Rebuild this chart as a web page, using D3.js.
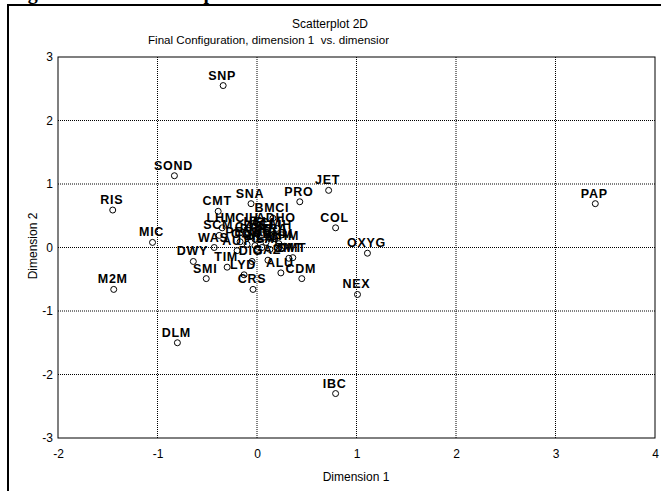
<!DOCTYPE html>
<html>
<head>
<meta charset="utf-8">
<script src="https://cdn.jsdelivr.net/npm/d3@7"></script>
<style>
  html, body { margin: 0; padding: 0; background: #fff; }
  svg { display: block; }
</style>
</head>
<body>
<div id="chart"></div>
<script>
// MDS final configuration, dimension 1 vs dimension 2
const labels = [
  "SNP", "SOND", "RIS", "MIC", "M2M", "DLM", "IBC", "NEX", "OXYG", "COL",
  "JET", "PRO", "CDM", "PAP", "SNA", "CMT", "DWY", "SMI", "TIM", "LYD",
  "CRS", "ALU", "DMT", "OMT", "LHM", "CIH", "BMCI", "ADHO", "SCM", "WAS",
  "AUT", "DIG", "GAZ", "SGI", "PHA", "BRI", "CAS", "TRA", "CHM", "HEL",
  "OCH", "SAF", "LIH", "PEN", "ALM", "BHM", "SIL", "ACM"
];
const dim1 = [
  -0.34, -0.83, -1.45, -1.05, -1.44, -0.80, 0.79, 1.01, 1.11, 0.79,
  0.72, 0.43, 0.45, 3.40, -0.06, -0.39, -0.64, -0.51, -0.30, -0.13,
  -0.04, 0.24, 0.36, 0.32, -0.35, -0.09, 0.16, 0.20, -0.38, -0.43,
  -0.20, -0.05, 0.11, 0.05, -0.02, 0.09, -0.07, 0.18, 0.28, 0.01,
  -0.10, 0.13, 0.25, -0.17, 0.05, 0.22, -0.02, 0.10
];
const dim2 = [
  2.55, 1.13, 0.59, 0.08, -0.66, -1.50, -2.30, -0.74, -0.09, 0.31,
  0.90, 0.72, -0.49, 0.69, 0.69, 0.57, -0.22, -0.49, -0.31, -0.43,
  -0.66, -0.40, -0.16, -0.17, 0.31, 0.31, 0.46, 0.30, 0.19, 0.00,
  -0.05, -0.22, -0.20, 0.20, 0.13, 0.08, 0.17, 0.14, 0.02, 0.25,
  0.05, -0.03, 0.20, 0.09, 0.00, 0.06, 0.03, 0.23
];
const xTicks = [-2, -1, 0, 1, 2, 3, 4];
const yTicks = [-3, -2, -1, 0, 1, 2, 3];

const width = 661, height = 491;
const sans = "'Liberation Sans', Arial, sans-serif";

const svg = d3.select("#chart").append("svg")
  .attr("width", width)
  .attr("height", height);

// page frame and the cut-off figure caption above it
svg.append("text")
  .attr("x", 10).attr("y", -1)
  .style("font-family", "'Liberation Serif', 'Times New Roman', serif")
  .style("font-weight", "bold")
  .style("font-size", "20px")
  .text("Figure 7: MDS Scatterplot");
svg.append("path")
  .attr("d", "M8,491 V5 H661")
  .attr("fill", "none")
  .attr("stroke", "#000")
  .attr("stroke-width", 2);

const x = d3.scaleLinear().domain([-2, 4]).range([58, 655]);
const y = d3.scaleLinear().domain([-3, 3]).range([438, 57]);

// titles
svg.append("text")
  .attr("x", 330).attr("y", 28)
  .attr("text-anchor", "middle")
  .style("font-family", sans).style("font-size", "12px")
  .text("Scatterplot 2D");

svg.append("clipPath").attr("id", "subclip")
  .append("rect").attr("x", 0).attr("y", 0).attr("width", 389).attr("height", 60);
svg.append("text")
  .attr("x", 148).attr("y", 44)
  .attr("clip-path", "url(#subclip)")
  .style("font-family", sans).style("font-size", "11.6px")
  .style("white-space", "pre")
  .text("Final Configuration, dimension 1  vs. dimension 2");

// grid
const grid = svg.append("g");
grid.selectAll("line.gx")
  .data(xTicks.slice(1, -1))
  .enter().append("line")
  .attr("class", "gx")
  .attr("x1", d => x(d)).attr("x2", d => x(d))
  .attr("y1", y(3)).attr("y2", y(-3))
  .attr("stroke", "#000")
  .attr("stroke-dasharray", "1,1");
grid.selectAll("line.gy")
  .data(yTicks.slice(1, -1))
  .enter().append("line")
  .attr("class", "gy")
  .attr("x1", x(-2)).attr("x2", x(4))
  .attr("y1", d => y(d)).attr("y2", d => y(d))
  .attr("stroke", "#000")
  .attr("stroke-dasharray", "1,1");

svg.append("rect")
  .attr("x", x(-2)).attr("y", y(3))
  .attr("width", x(4) - x(-2)).attr("height", y(-3) - y(3))
  .attr("fill", "none")
  .attr("stroke", "#000");

// axes (labels only, the frame is the box above)
const fmt = d => String(d);
const xAxis = svg.append("g")
  .attr("transform", "translate(0," + y(-3) + ")")
  .call(d3.axisBottom(x).tickValues(xTicks).tickSize(0).tickPadding(11).tickFormat(fmt));
const yAxis = svg.append("g")
  .attr("transform", "translate(" + x(-2) + ",0)")
  .call(d3.axisLeft(y).tickValues(yTicks).tickSize(0).tickPadding(5).tickFormat(fmt));
[xAxis, yAxis].forEach(a => {
  a.select(".domain").remove();
  a.selectAll("text")
    .style("font-family", sans)
    .style("font-size", "12px")
    .attr("fill", "#000");
});

svg.append("text")
  .attr("x", 356).attr("y", 481)
  .attr("text-anchor", "middle")
  .style("font-family", sans).style("font-size", "12px")
  .text("Dimension 1");
svg.append("text")
  .attr("transform", "translate(37,246) rotate(-90)")
  .attr("text-anchor", "middle")
  .style("font-family", sans).style("font-size", "12px")
  .text("Dimension 2");

// points
const pts = labels.map((l, i) => ({ label: l, d1: dim1[i], d2: dim2[i] }));

const marks = svg.append("g");
marks.selectAll("circle")
  .data(pts)
  .enter().append("circle")
  .attr("cx", d => x(d.d1))
  .attr("cy", d => y(d.d2))
  .attr("r", 3)
  .attr("fill", "none")
  .attr("stroke", "#000");

marks.selectAll("text")
  .data(pts)
  .enter().append("text")
  .attr("x", d => x(d.d1) - 1)
  .attr("y", d => y(d.d2) - 6)
  .attr("text-anchor", "middle")
  .style("font-family", sans)
  .style("font-weight", "bold")
  .style("font-size", "12.5px")
  .style("letter-spacing", "0.7px")
  .text(d => d.label);
</script>
</body>
</html>
